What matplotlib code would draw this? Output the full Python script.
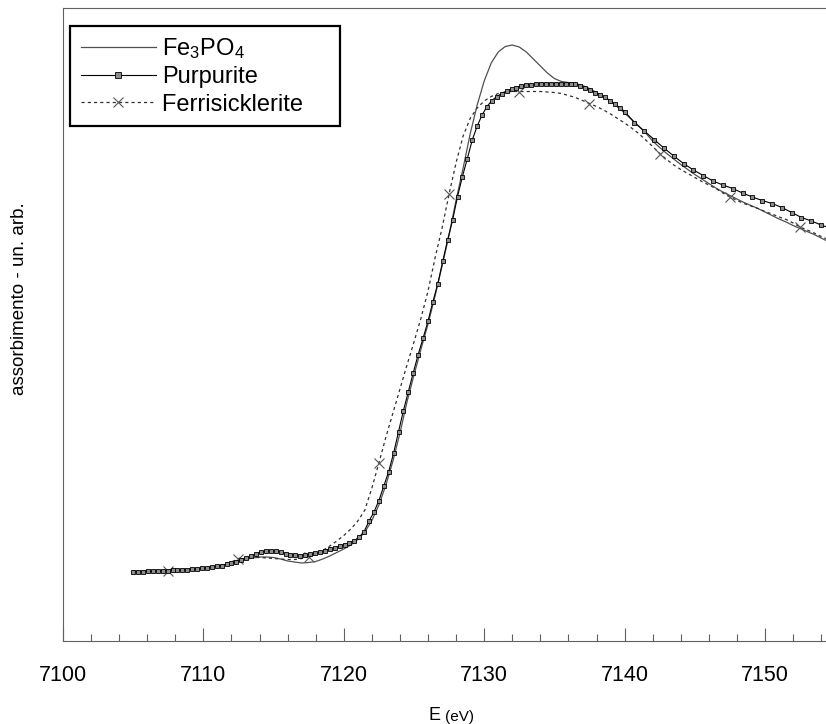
import numpy as np
import matplotlib
matplotlib.use("Agg")
import matplotlib.pyplot as plt
from matplotlib.ticker import MultipleLocator, NullLocator

plt.rcParams["font.family"] = ["Liberation Sans", "DejaVu Sans"]
plt.rcParams["mathtext.fontset"] = "custom"
plt.rcParams["mathtext.rm"] = "Liberation Sans"
plt.rcParams["mathtext.it"] = "Liberation Sans:italic"

# -----------------------------------------------------------------------
# Data (normalised absorption, arbitrary units)
# -----------------------------------------------------------------------
# Fe3PO4 and ferrisicklerite: 0.5 eV scan step from 7105 eV
energy = 7105.0 + 0.5 * np.arange(100)

fe3po4 = [
    -0.001, -0.001, 0.000, 0.000, 0.001, 0.001, 0.002, 0.002, 0.003, 0.004,
    0.005, 0.007, 0.009, 0.012, 0.015, 0.019, 0.023, 0.026, 0.028, 0.028,
    0.027, 0.024, 0.020, 0.018, 0.016, 0.017, 0.019, 0.024, 0.030, 0.037,
    0.044, 0.052, 0.063, 0.078, 0.101, 0.132, 0.172, 0.220, 0.276, 0.338,
    0.392, 0.444, 0.494, 0.550, 0.610, 0.672, 0.742, 0.806, 0.874, 0.932,
    0.980, 1.016, 1.038, 1.049, 1.052, 1.048, 1.038, 1.024, 1.010, 0.996,
    0.985, 0.979, 0.977, 0.975, 0.971, 0.965, 0.957, 0.949, 0.939, 0.928,
    0.916, 0.903, 0.890, 0.876, 0.860, 0.847, 0.835, 0.824, 0.813, 0.803,
    0.793, 0.784, 0.775, 0.766, 0.758, 0.751, 0.744, 0.737, 0.731, 0.725,
    0.718, 0.711, 0.704, 0.698, 0.691, 0.685, 0.679, 0.673, 0.666, 0.659,
]

ferrisicklerite = [
    -0.001, -0.001, 0.000, 0.000, 0.001, 0.001, 0.002, 0.003, 0.004, 0.005,
    0.006, 0.008, 0.010, 0.013, 0.018, 0.025, 0.027, 0.027, 0.027, 0.026,
    0.025, 0.024, 0.023, 0.023, 0.025, 0.029, 0.034, 0.041, 0.050, 0.060,
    0.071, 0.084, 0.100, 0.122, 0.166, 0.216, 0.268, 0.316, 0.364, 0.412,
    0.458, 0.506, 0.560, 0.626, 0.686, 0.754, 0.817, 0.870, 0.905, 0.926,
    0.940, 0.949, 0.955, 0.958, 0.959, 0.959, 0.959, 0.959, 0.959, 0.958,
    0.957, 0.955, 0.951, 0.947, 0.941, 0.935, 0.929, 0.922, 0.914, 0.905,
    0.896, 0.886, 0.875, 0.862, 0.849, 0.835, 0.823, 0.812, 0.803, 0.795,
    0.787, 0.779, 0.772, 0.765, 0.756, 0.748, 0.741, 0.735, 0.730, 0.725,
    0.719, 0.714, 0.708, 0.703, 0.696, 0.688, 0.682, 0.676, 0.669, 0.663,
]

# Purpurite: 0.35 eV step up to 7140 eV, then 0.7 eV
energy_purp = np.concatenate([7105.0 + 0.35 * np.arange(101),
                              7140.7 + 0.7 * np.arange(21)])

purpurite = [
    -0.001, -0.001, -0.001, 0.000, 0.000, 0.000, 0.001, 0.001, 0.002, 0.002,
    0.003, 0.003, 0.004, 0.005, 0.006, 0.007, 0.008, 0.010, 0.011, 0.014,
    0.016, 0.019, 0.023, 0.026, 0.030, 0.034, 0.038, 0.040, 0.041, 0.040,
    0.038, 0.035, 0.033, 0.032, 0.031, 0.032, 0.034, 0.036, 0.038, 0.041,
    0.044, 0.046, 0.050, 0.053, 0.056, 0.061, 0.068, 0.079, 0.100, 0.118,
    0.141, 0.170, 0.199, 0.236, 0.279, 0.321, 0.359, 0.397, 0.433, 0.466,
    0.500, 0.539, 0.575, 0.620, 0.663, 0.702, 0.749, 0.789, 0.825, 0.862,
    0.890, 0.912, 0.929, 0.941, 0.949, 0.955, 0.960, 0.964, 0.967, 0.970,
    0.972, 0.973, 0.974, 0.975, 0.975, 0.975, 0.975, 0.975, 0.975, 0.975,
    0.974, 0.971, 0.967, 0.962, 0.957, 0.953, 0.948, 0.941, 0.934, 0.927,
    0.919,
    0.897, 0.880, 0.863, 0.846, 0.830, 0.815, 0.802, 0.791, 0.780, 0.772,
    0.765, 0.756, 0.748, 0.741, 0.735, 0.727, 0.717, 0.707, 0.700, 0.692,
    0.685,
]

labels = [r"Fe$_3$PO$_4$", "Purpurite", "Ferrisicklerite"]

W, H = 826, 724
fig = plt.figure(figsize=(W / 100, H / 100), dpi=100)
ax = fig.add_axes([63 / W, 83 / H, 767 / W, 633 / H])

l_fe, = ax.plot(energy, fe3po4, "-", color="#505050", lw=0.9,
                label=labels[0], zorder=2)
l_pu, = ax.plot(energy_purp, purpurite, "-", color="black", lw=0.8,
                marker="s", ms=3.4, mfc="#8c8c8c", mec="black", mew=0.6,
                label=labels[1], zorder=4)
l_fs, = ax.plot(energy, ferrisicklerite, color="#303030", lw=0.9,
                dashes=(2.5, 2.5), marker="x", ms=7, mec="#555555", mew=0.8,
                markevery=(5, 10), label=labels[2], zorder=3)

ax.set_xlim(7100, 7154.63)
ax.set_ylim(-0.14, 1.126)

ax.xaxis.set_major_locator(MultipleLocator(10))
ax.xaxis.set_minor_locator(MultipleLocator(2))
ax.yaxis.set_major_locator(NullLocator())
ax.tick_params(axis="x", which="both", direction="in", color="#606060",
               width=0.8, labelsize=15.5, pad=17)
ax.tick_params(axis="x", which="major", length=9.5)
ax.tick_params(axis="x", which="minor", length=4.8)
for sp in ax.spines.values():
    sp.set_color("#606060")
    sp.set_linewidth(0.8)

fig.text(20 / W, 1 - 299 / H, "assorbimento - un. arb.", rotation=90,
         ha="center", va="center", fontsize=13.5)
fig.text(441 / W, 3.5 / H, "E", ha="right", va="baseline", fontsize=13)
fig.text(445 / W, 3.5 / H, "(eV)", ha="left", va="baseline", fontsize=11)

# trailing spaces give the wider right margin of the original legend box
leg = ax.legend(handles=[l_fe, l_pu, l_fs],
                labels=[labels[0], labels[1], labels[2] + "    "],
                loc="upper left",
                bbox_to_anchor=(7 / 767, 1 - 17.7 / 633), borderaxespad=0,
                fontsize=17, numpoints=1, markerscale=1.1, handlelength=3.2,
                handletextpad=0.25, labelspacing=0.22, borderpad=0.45,
                fancybox=False, framealpha=1)
leg.get_frame().set_edgecolor("black")
leg.get_frame().set_linewidth(1.6)

fig.savefig("out.png", dpi=100)
